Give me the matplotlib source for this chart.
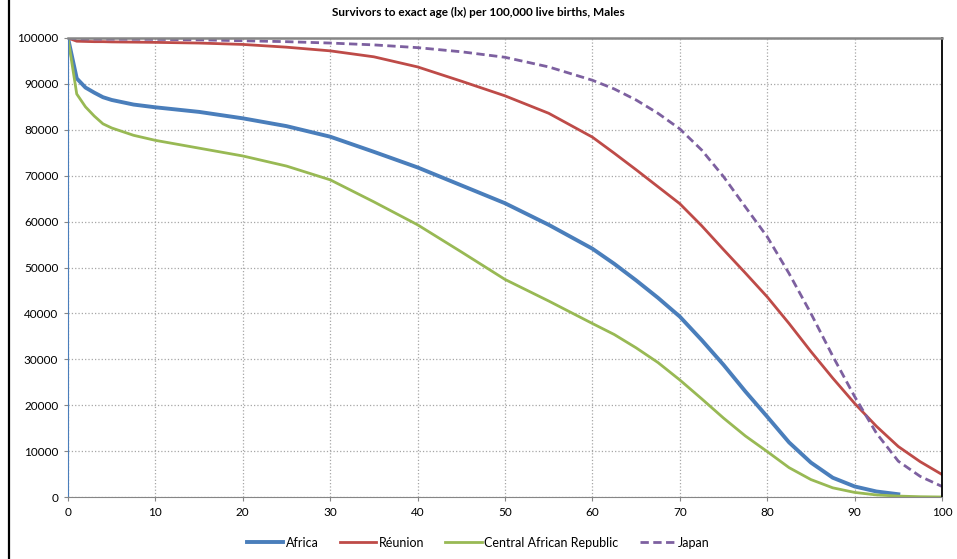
import matplotlib.pyplot as plt
from matplotlib.lines import Line2D

# ---------------------------
# Life table values (lx)
# ---------------------------
ages = [0, 1, 2, 3, 4, 5, 7.5, 10, 15, 20, 25, 30, 35, 40, 45, 50, 55, 60, 62.5, 65, 67.5,
        70, 72.5, 75, 77.5, 80, 82.5, 85, 87.5, 90, 92.5, 95, 97.5, 100]

# Africa stops at age 95
africa = [100000, 91200, 89200, 88100, 87100, 86500, 85500, 84900, 83900, 82500, 80800, 78500,
          75200, 71800, 67900, 64000, 59300, 54100, 50800, 47200, 43400, 39300, 34200, 28800,
          23000, 17500, 11900, 7500, 4200, 2300, 1200, 600]
reunion = [100000, 99300, 99250, 99200, 99200, 99150, 99100, 99050, 98900, 98600, 98000, 97200,
           95900, 93700, 90600, 87400, 83600, 78400, 74900, 71300, 67600, 63900, 59100, 53900,
           48800, 43600, 37800, 31700, 25900, 20400, 15400, 11000, 7700, 4900]
car = [100000, 87800, 85000, 83000, 81300, 80400, 78800, 77700, 76000, 74300, 72100, 69100,
       64300, 59300, 53400, 47400, 42700, 37800, 35400, 32500, 29300, 25500, 21400, 17200,
       13300, 9900, 6400, 3800, 2000, 1000, 450, 200, 60, 0]
japan = [100000, 99800, 99780, 99770, 99760, 99750, 99720, 99700, 99600, 99400, 99200, 98900,
         98500, 97900, 97000, 95800, 93700, 90800, 88900, 86500, 83600, 80200, 75600, 69800,
         63200, 56700, 48700, 40000, 30700, 21900, 13900, 7800, 4500, 2300]

plt.rcParams['font.family'] = ['Lato', 'DejaVu Sans']

fig = plt.figure(figsize=(9.57, 5.59), dpi=100)
ax = fig.add_axes([68/957, 1-497/559, (942-68)/957, (497-38)/559])

ax.plot(ages[:len(africa)], africa, color='#4a7ebb', lw=2.8, label='Africa')
ax.plot(ages, reunion, color='#be4b48', lw=2.0, label='Réunion')
ax.plot(ages, car, color='#98b954', lw=2.0, label='Central African Republic')
ax.plot(ages, japan, color='#7d60a0', lw=2.0, ls=(0, (3, 1.6)), label='Japan')

ax.set_xlim(0, 100)
ax.set_ylim(0, 100000)
ax.set_xticks(range(0, 101, 10))
ax.set_yticks(range(0, 100001, 10000))
ax.grid(True, ls=':', color='#a6a6a6', lw=0.9)
ax.tick_params(labelsize=8.5, length=3, color='#868686', pad=4)

ax.spines['top'].set_color('#868686')
ax.spines['top'].set_linewidth(1.8)
ax.spines['bottom'].set_color('#868686')
ax.spines['right'].set_color('black')
ax.spines['right'].set_linewidth(1.3)
ax.spines['left'].set_color('#4a7ebb')
ax.spines['left'].set_linewidth(0.8)

fig.text(0.5, 0.977, 'Survivors to exact age (lx) per 100,000 live births, Males',
         ha='center', va='center', fontsize=8.5, fontweight='bold')

fig.legend(loc='center', bbox_to_anchor=(0.5, 0.029), ncol=4, frameon=False,
           fontsize=9, handlelength=2.9, handletextpad=0.2, columnspacing=1.7)

# black frame line on the left edge
fig.add_artist(Line2D([8.5/957, 8.5/957], [0, 1], transform=fig.transFigure,
                      color='black', lw=1.6))

fig.savefig("out.png", dpi=100)
